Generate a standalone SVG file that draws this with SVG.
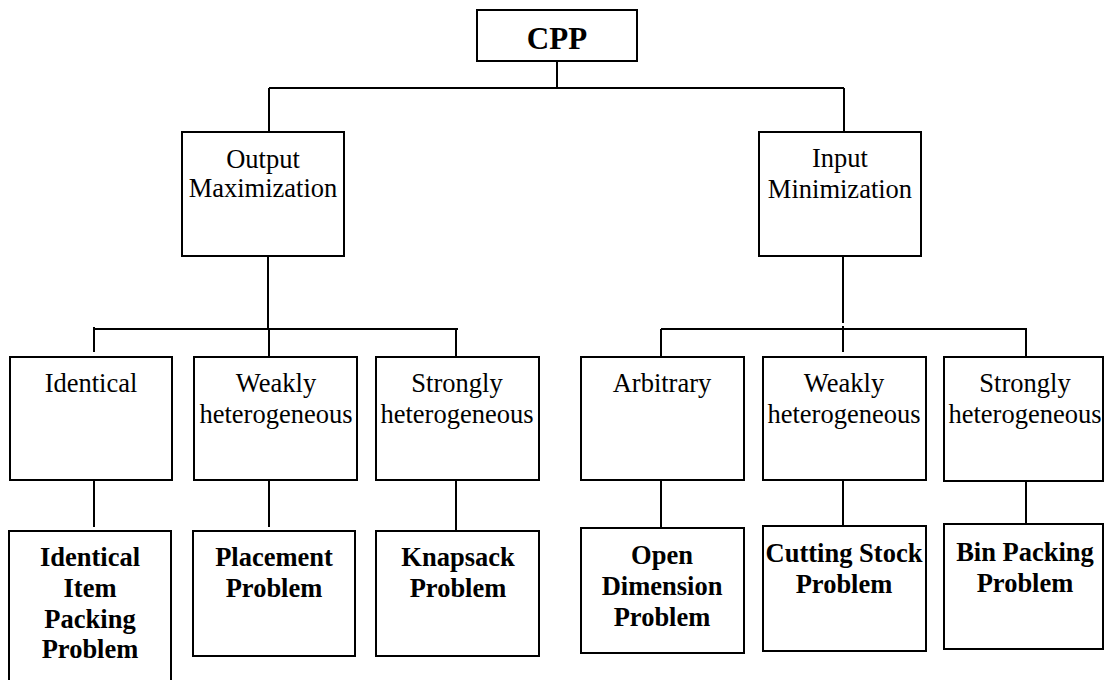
<svg xmlns="http://www.w3.org/2000/svg" width="1104" height="680" viewBox="0 0 1104 680">
  <style>
    .box { fill: #ffffff; stroke: #000000; stroke-width: 2; }
    .link { fill: none; stroke: #000000; stroke-width: 2; }
    .lbl { font-family: "Liberation Serif", "Times New Roman", serif; font-size: 26.5px; fill: #000000; text-anchor: middle; }
    .bold { font-weight: bold; }
    .root { font-family: "Liberation Serif", "Times New Roman", serif; font-size: 31px; font-weight: bold; fill: #000000; text-anchor: middle; }
  </style>
  <rect width="1104" height="680" fill="#ffffff"/>

  <!-- connectors -->
  <g id="connectors" class="link">
    <!-- root to level 1 -->
    <path d="M557 61 V88"/>
    <path d="M269 88 H844"/>
    <path d="M269 88 V132"/>
    <path d="M844 88 V132"/>
    <!-- output maximization branch -->
    <path d="M268 256 V329"/>
    <path d="M94 329 H458"/>
    <path d="M94 327 V352"/>
    <path d="M269 329 V357"/>
    <path d="M456 329 V357"/>
    <path d="M94 480 V527"/>
    <path d="M269 480 V527"/>
    <path d="M456 480 V531"/>
    <!-- input minimization branch -->
    <path d="M843 256 V323"/>
    <path d="M661 329 H1027"/>
    <path d="M661 329 V357"/>
    <path d="M843 326 V352"/>
    <path d="M1026 329 V357"/>
    <path d="M661 480 V528"/>
    <path d="M843 478 V526"/>
    <path d="M1026 480 V527"/>
  </g>

  <!-- root -->
  <g id="cpp">
    <rect class="box" x="477" y="10" width="160" height="51"/>
    <text class="root" x="557" y="49">CPP</text>
  </g>

  <!-- level 1 -->
  <g id="output-max">
    <rect class="box" x="182" y="132" width="162" height="124"/>
    <text class="lbl" x="263" y="168">Output</text>
    <text class="lbl" x="263" y="197">Maximization</text>
  </g>
  <g id="input-min">
    <rect class="box" x="759" y="132" width="162" height="124"/>
    <text class="lbl" x="840" y="167">Input</text>
    <text class="lbl" x="840" y="198">Minimization</text>
  </g>

  <!-- level 2, output side -->
  <g id="identical">
    <rect class="box" x="10" y="357" width="162" height="123"/>
    <text class="lbl" x="91" y="392">Identical</text>
  </g>
  <g id="weakly-out">
    <rect class="box" x="194" y="357" width="163" height="123"/>
    <text class="lbl" x="276" y="392">Weakly</text>
    <text class="lbl" x="276" y="423">heterogeneous</text>
  </g>
  <g id="strongly-out">
    <rect class="box" x="376" y="357" width="163" height="123"/>
    <text class="lbl" x="457" y="392">Strongly</text>
    <text class="lbl" x="457" y="423">heterogeneous</text>
  </g>

  <!-- level 2, input side -->
  <g id="arbitrary">
    <rect class="box" x="581" y="357" width="163" height="123"/>
    <text class="lbl" x="662" y="392">Arbitrary</text>
  </g>
  <g id="weakly-in">
    <rect class="box" x="763" y="357" width="163" height="123"/>
    <text class="lbl" x="844" y="392">Weakly</text>
    <text class="lbl" x="844" y="423">heterogeneous</text>
  </g>
  <g id="strongly-in">
    <rect class="box" x="944" y="357" width="159" height="124"/>
    <text class="lbl" x="1025" y="392">Strongly</text>
    <text class="lbl" x="1025" y="423">heterogeneous</text>
  </g>

  <!-- level 3, output side -->
  <g id="identical-item">
    <rect class="box" x="9" y="531" width="162" height="160"/>
    <text class="lbl bold" x="90" y="566">Identical</text>
    <text class="lbl bold" x="90" y="597">Item</text>
    <text class="lbl bold" x="90" y="628">Packing</text>
    <text class="lbl bold" x="90" y="658">Problem</text>
  </g>
  <g id="placement">
    <rect class="box" x="193" y="531" width="162" height="125"/>
    <text class="lbl bold" x="274" y="566">Placement</text>
    <text class="lbl bold" x="274" y="597">Problem</text>
  </g>
  <g id="knapsack">
    <rect class="box" x="376" y="531" width="163" height="125"/>
    <text class="lbl bold" x="458" y="566">Knapsack</text>
    <text class="lbl bold" x="458" y="597">Problem</text>
  </g>

  <!-- level 3, input side -->
  <g id="open-dimension">
    <rect class="box" x="581" y="528" width="163" height="125"/>
    <text class="lbl bold" x="662" y="564">Open</text>
    <text class="lbl bold" x="662" y="595">Dimension</text>
    <text class="lbl bold" x="662" y="626">Problem</text>
  </g>
  <g id="cutting-stock">
    <rect class="box" x="763" y="526" width="163" height="125"/>
    <text class="lbl bold" x="844" y="562">Cutting Stock</text>
    <text class="lbl bold" x="844" y="593">Problem</text>
  </g>
  <g id="bin-packing">
    <rect class="box" x="944" y="524" width="159" height="125"/>
    <text class="lbl bold" x="1025" y="561">Bin Packing</text>
    <text class="lbl bold" x="1025" y="592">Problem</text>
  </g>
</svg>
